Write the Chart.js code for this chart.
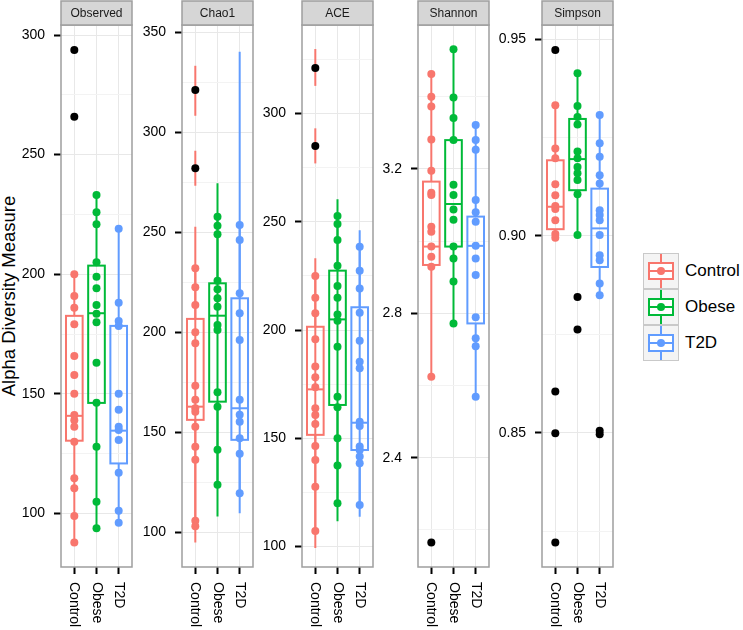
<!DOCTYPE html>
<html lang="en">
<head>
<meta charset="UTF-8" />
<title>Alpha Diversity Measure</title>
<style>
  body { margin: 0; background: #fff; width: 743px; height: 630px; position: relative; overflow: hidden;
         font-family: "Liberation Sans", Arial, sans-serif; }
  canvas { position: absolute; top: 0; }
  #ytitle { position: absolute; left: 9px; top: 296px; transform: translate(-50%, -50%) rotate(-90deg);
            font-size: 18.5px; line-height: 20px; white-space: nowrap; color: #000; }
  .key { position: absolute; left: 643px; width: 36px; height: 36px; box-sizing: border-box;
         border: 1px solid #c9c9c9; background: #f4f4f4; }
  .key i { position: absolute; display: block; }
  .lab { position: absolute; left: 685px; font-size: 17px; line-height: 20px; color: #000; }
</style>
</head>
<body>
<div id="ytitle">Alpha Diversity Measure</div>

<script src="https://cdn.jsdelivr.net/npm/chart.js"></script>
<script>
// groups (x categories) and panels
const groups = ["Control", "Obese", "T2D"];
const groupColors = ["#F8766D", "#00BA38", "#619CFF"];
const panelNames = ["Observed", "Chao1", "ACE", "Shannon", "Simpson"];

// Observed
const observedControl = [200, 190.9, 186.0, 179.1, 165.8, 157.9, 150.0, 141.1, 139.0, 136.2, 130.0, 114.7, 110.5, 98.9, 87.8];
const observedObese = [233.1, 225.9, 220.9, 205.0, 199.0, 194.1, 187.1, 183.5, 179.9, 163.0, 146.3, 127.9, 104.9, 93.8];
const observedT2D = [219.0, 188.1, 180.4, 178.4, 150.0, 143.3, 136.2, 134.9, 130.7, 117.0, 101.1, 96.1];
const observedOutliers = [[293.7, 265.8], [], []];
// [lower whisker, q1, median, q3, upper whisker]
const observedBoxes = [[87.8, 130.4, 140.8, 182.6, 200], [93.8, 146.2, 183.7, 203.6, 233.1], [96.1, 120.9, 134.6, 178.4, 219.0]];
const observedTicks = [100, 150, 200, 250, 300];
const observedMinor = [125, 175, 225, 275];
const observedRange = [77.6, 304.2];

// Chao1
const chao1Control = [232, 222.5, 213.7, 200, 194.5, 173.2, 166.2, 162, 160.3, 152.8, 142.8, 136.2, 105.7, 103];
const chao1Obese = [257.8, 253.3, 249, 225.8, 221.5, 217, 212.8, 203.7, 201.2, 170, 162.8, 141.2, 123.7];
const chao1T2D = [253.7, 246.2, 219.5, 209.5, 196.2, 166.2, 158.7, 155.3, 147, 139.2, 119.5];
const chao1Outliers = [[321.2, 282], [], []];
const chao1Boxes = [[103, 156.2, 162.8, 206.7, 232], [123.7, 165.3, 208.3, 224.5, 257.8], [119.5, 146.2, 162, 217, 253.7]];
const chao1Errors = [[[94.8, 252.8], [308.3, 333.3], [273.3, 290.8]], [[107.8, 274.5]], [[109.5, 340.3]]];
const chao1Ticks = [100, 150, 200, 250, 300, 350];
const chao1Minor = [125, 175, 225, 275, 325];
const chao1Range = [82.6, 353.7];

// ACE
const aceControl = [224.9, 214.9, 207.7, 195.7, 183.1, 178.2, 173.6, 163.9, 160.8, 156.6, 146.5, 140, 127.7, 107.2];
const aceObese = [252.6, 248.9, 241.5, 229.7, 220.3, 214.9, 207.2, 204.3, 192.3, 169.2, 164.3, 150, 137.4, 120];
const aceT2D = [238.4, 227.4, 219.2, 208, 195, 185.4, 182.3, 157.7, 155.7, 146.2, 144.6, 141.6, 138.5, 119.2];
const aceOutliers = [[321, 285], [], []];
const aceBoxes = [[107.2, 151.6, 172.6, 201.5, 224.9], [120, 165.4, 204.9, 227.4, 252.6], [119.2, 144.6, 157.2, 210.5, 238.4]];
const aceErrors = [[[99.4, 233.1], [312.7, 329.7], [276.9, 293.1]], [[111.7, 260.4]], [[113.8, 246.1]]];
const aceTicks = [100, 150, 200, 250, 300];
const aceMinor = [125, 175, 225, 275, 325];
const aceRange = [90.6, 340.8];

// Shannon
const shannonControl = [3.463, 3.400, 3.373, 3.282, 3.195, 3.134, 3.128, 3.040, 3.026, 2.985, 2.957, 2.929, 2.624];
const shannonObese = [3.532, 3.398, 3.341, 3.280, 3.156, 3.128, 3.088, 3.059, 2.985, 2.952, 2.888, 2.772];
const shannonT2D = [3.322, 3.280, 3.253, 3.114, 3.080, 3.054, 2.987, 2.952, 2.906, 2.789, 2.731, 2.709, 2.569];
const shannonOutliers = [[2.165], [], []];
const shannonBoxes = [[2.624, 2.934, 2.985, 3.165, 3.463], [2.772, 2.985, 3.103, 3.280, 3.532], [2.569, 2.772, 2.987, 3.068, 3.322]];
const shannonTicks = [2.4, 2.8, 3.2];
const shannonMinor = [2.2, 2.6, 3.0, 3.4];
const shannonRange = [2.097, 3.599];

// Simpson
const simpsonControl = [0.9332, 0.9222, 0.9197, 0.9131, 0.9103, 0.9076, 0.9068, 0.9040, 0.9005, 0.8995];
const simpsonObese = [0.9413, 0.9330, 0.9302, 0.9283, 0.9214, 0.9197, 0.9175, 0.9159, 0.9142, 0.9106, 0.9002];
const simpsonT2D = [0.9307, 0.9235, 0.9201, 0.9154, 0.9133, 0.9065, 0.9053, 0.9040, 0.9002, 0.8951, 0.8938, 0.8879, 0.8849];
const simpsonOutliers = [[0.9472, 0.8605, 0.8499, 0.8221], [0.8845, 0.8762], [0.8505, 0.8496]];
const simpsonBoxes = [[0.8995, 0.9017, 0.9074, 0.9192, 0.9332], [0.9002, 0.9116, 0.9195, 0.9297, 0.9413], [0.8849, 0.8921, 0.9019, 0.9120, 0.9307]];
const simpsonTicks = [0.85, 0.90, 0.95];
const simpsonTickLabels = ["0.85", "0.90", "0.95"];
const simpsonMinor = [0.825, 0.875, 0.925];
const simpsonRange = [0.8159, 0.95356];

// page layout
const FONT = "Liberation Sans, Arial, sans-serif";
const plotLeft = [61, 182, 302, 418, 542];
const AXIS_W = 45, PLOT_W = 72;

function makePanel(i, points, outliers, boxes, errors, range, ticks, tickLabels, minor) {
  const canvas = document.createElement("canvas");
  canvas.width = AXIS_W + PLOT_W + 3;
  canvas.height = 630;
  canvas.style.left = (plotLeft[i] - AXIS_W) + "px";
  document.body.appendChild(canvas);

  const allTicks = ticks.concat(minor).sort((a, b) => a - b);
  const isMajor = v => ticks.indexOf(v) >= 0;

  // outliers first so they end up on top
  const datasets = [{
    data: outliers.flatMap((vals, g) => vals.map(v => ({ x: g, y: v }))),
    backgroundColor: "#000", pointRadius: 4, borderWidth: 0
  }];
  points.forEach((vals, g) => {
    datasets.push({
      data: vals.map(v => ({ x: g, y: v })),
      backgroundColor: groupColors[g], pointRadius: 4, borderWidth: 0
    });
  });

  const deco = {
    id: "deco" + i,
    beforeDatasetDraw(chart, args) {
      if (args.index !== 0) return;
      const { ctx, scales: { x, y } } = chart;
      const half = x.getPixelForValue(0.375) - x.getPixelForValue(0);
      ctx.save();
      ctx.lineWidth = 2;
      groups.forEach((g, k) => {
        const cx = x.getPixelForValue(k);
        ctx.strokeStyle = groupColors[k];
        const seg = (x1, y1, x2, y2) => { ctx.beginPath(); ctx.moveTo(x1, y1); ctx.lineTo(x2, y2); ctx.stroke(); };
        (errors ? errors[k] : []).forEach(([lo, hi]) => seg(cx, y.getPixelForValue(lo), cx, y.getPixelForValue(hi)));
        const [lo, q1, md, q3, hi] = boxes[k].map(v => y.getPixelForValue(v));
        seg(cx, q3, cx, hi);
        seg(cx, q1, cx, lo);
        ctx.strokeRect(cx - half, q3, half * 2, q1 - q3);
        seg(cx - half, md, cx + half, md);
      });
      ctx.restore();
    },
    afterDraw(chart) {
      const { ctx, chartArea: { left, right, top, bottom }, scales: { x } } = chart;
      ctx.save();
      // panel border
      ctx.strokeStyle = "#9e9e9e";
      ctx.lineWidth = 1.5;
      ctx.strokeRect(left, top, right - left, bottom - top);
      // strip
      ctx.fillStyle = "#d6d6d6";
      ctx.fillRect(left, 1, right - left, top - 1);
      ctx.strokeRect(left, 1, right - left, top - 1);
      ctx.fillStyle = "#1a1a1a";
      ctx.font = "12px " + FONT;
      ctx.textAlign = "center";
      ctx.textBaseline = "middle";
      ctx.fillText(panelNames[i], (left + right) / 2, 13.5);
      // rotated category labels
      ctx.fillStyle = "#000";
      ctx.font = "14px " + FONT;
      ctx.textAlign = "left";
      groups.forEach((g, k) => {
        ctx.save();
        ctx.translate(x.getPixelForValue(k), 582);
        ctx.rotate(Math.PI / 2);
        ctx.fillText(g, 0, 0);
        ctx.restore();
      });
      ctx.restore();
    }
  };

  new Chart(canvas, {
    type: "scatter",
    data: { datasets },
    options: {
      responsive: false,
      animation: false,
      events: [],
      layout: { padding: { top: 25, right: 3, left: 0, bottom: 0 } },
      plugins: { legend: { display: false }, tooltip: { enabled: false } },
      scales: {
        x: {
          type: "linear", min: -0.6, max: 2.6,
          afterBuildTicks: s => { s.ticks = groups.map((g, k) => ({ value: k })); },
          afterFit: s => { s.height = 63; },
          ticks: { display: false },
          grid: { color: "#e8e8e8", tickColor: "#000", tickLength: 7, tickWidth: 2 },
          border: { display: false }
        },
        y: {
          min: range[0], max: range[1],
          afterBuildTicks: s => { s.ticks = allTicks.map(v => ({ value: v })); },
          afterFit: s => { s.width = AXIS_W; },
          ticks: {
            autoSkip: false, padding: 9, color: "#000", font: { family: FONT, size: 14 },
            callback: v => { const k = ticks.indexOf(v); return k >= 0 ? tickLabels[k] : ""; }
          },
          grid: {
            color: c => isMajor(c.tick.value) ? "#e8e8e8" : "#f3f3f3",
            tickColor: c => isMajor(c.tick.value) ? "#000" : "rgba(0,0,0,0)",
            tickLength: 7, tickWidth: 2
          },
          border: { display: false }
        }
      }
    },
    plugins: [deco]
  });
}

makePanel(0, [observedControl, observedObese, observedT2D], observedOutliers, observedBoxes, null,
  observedRange, observedTicks, observedTicks.map(String), observedMinor);
makePanel(1, [chao1Control, chao1Obese, chao1T2D], chao1Outliers, chao1Boxes, chao1Errors,
  chao1Range, chao1Ticks, chao1Ticks.map(String), chao1Minor);
makePanel(2, [aceControl, aceObese, aceT2D], aceOutliers, aceBoxes, aceErrors,
  aceRange, aceTicks, aceTicks.map(String), aceMinor);
makePanel(3, [shannonControl, shannonObese, shannonT2D], shannonOutliers, shannonBoxes, null,
  shannonRange, shannonTicks, shannonTicks.map(v => v.toFixed(1)), shannonMinor);
makePanel(4, [simpsonControl, simpsonObese, simpsonT2D], simpsonOutliers, simpsonBoxes, null,
  simpsonRange, simpsonTicks, simpsonTickLabels, simpsonMinor);

// legend
const keyTop = [253, 289, 325];
groups.forEach((g, k) => {
  const c = groupColors[k];
  const key = document.createElement("div");
  key.className = "key";
  key.style.top = keyTop[k] + "px";
  key.innerHTML =
    `<i style="left:16px;top:0;width:2px;height:34px;background:${c}"></i>` +
    `<i style="left:4px;top:8px;width:26px;height:18px;box-sizing:border-box;border:2px solid ${c};background:#fff"></i>` +
    `<i style="left:4px;top:16px;width:26px;height:2px;background:${c}"></i>` +
    `<i style="left:13px;top:13px;width:8px;height:8px;border-radius:50%;background:${c}"></i>`;
  document.body.appendChild(key);
  const lab = document.createElement("div");
  lab.className = "lab";
  lab.style.top = (keyTop[k] + 8) + "px";
  lab.textContent = g;
  document.body.appendChild(lab);
});
</script>
</body>
</html>
